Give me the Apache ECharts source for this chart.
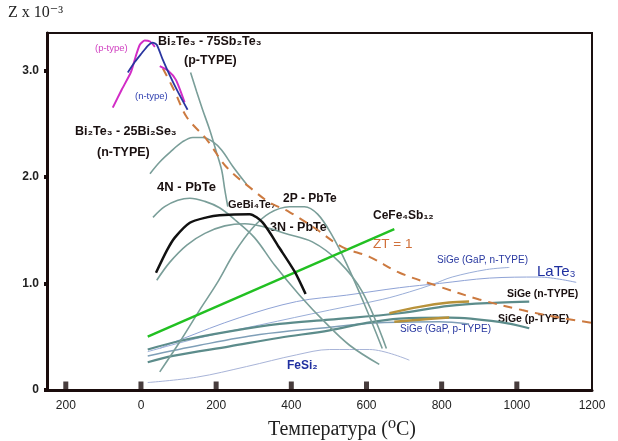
<!DOCTYPE html>
<html><head><meta charset="utf-8">
<script src="https://cdn.jsdelivr.net/npm/echarts@6/dist/echarts.min.js"></script>
<style>html,body{margin:0;padding:0;background:#fff}#c{width:618px;height:441px}</style>
</head><body><div id="c"></div>
<script>
// ---- data (°C , Z x 10^-3) ----
const xTickVals = [-200, 0, 200, 400, 600, 800, 1000];
const xTickLabels = {'-200':'200','0':'0','200':'200','400':'400','600':'600','800':'800','1000':'1000','1200':'1200'};
const yTickLabels = {'0':'0','1':'1.0','2':'2.0','3':'3.0'};

const pTypeAX = [-75, -51, -27, -14, -3, 10, 24, 37];
const pTypeAY = [2.65, 2.82, 2.98, 3.13, 3.24, 3.28, 3.27, 3.22];
const pTypeBX = [50, 71, 93, 116];
const pTypeBY = [3.04, 3.00, 2.91, 2.70];
const nTypeX = [-35, -16, 2, 18, 31, 42, 58, 77, 98, 124];
const nTypeY = [2.98, 3.08, 3.16, 3.23, 3.26, 3.24, 3.10, 2.95, 2.80, 2.63];
const sbTeX = [132, 148, 164, 183, 201, 215, 223, 231];
const sbTeY = [2.98, 2.80, 2.63, 2.44, 2.23, 2.06, 1.88, 1.72];
const biSeX = [24, 50, 77, 111, 138, 164, 191, 215, 244, 281];
const biSeY = [2.03, 2.14, 2.23, 2.33, 2.37, 2.37, 2.33, 2.25, 2.10, 1.93];
const pb4NX = [32, 63, 98, 130, 170, 209, 249, 302, 356, 422, 494, 555, 634];
const pb4NY = [1.62, 1.72, 1.78, 1.80, 1.77, 1.71, 1.60, 1.43, 1.17, 0.89, 0.62, 0.42, 0.24];
const pb3NX = [42, 77, 122, 170, 223, 276, 329, 382, 456, 528, 589, 653];
const pb3NY = [1.03, 1.20, 1.36, 1.47, 1.54, 1.56, 1.53, 1.47, 1.39, 1.20, 0.92, 0.39];
const pb2PX = [50, 103, 156, 202, 249, 297, 342, 395, 435, 470, 507, 549, 595, 642];
const pb2PY = [0.17, 0.45, 0.75, 1.00, 1.29, 1.52, 1.66, 1.72, 1.72, 1.65, 1.46, 1.17, 0.80, 0.39];
const geBiX = [40, 69, 90, 130, 175, 209, 289, 324, 369, 409, 438];
const geBiY = [1.10, 1.31, 1.43, 1.57, 1.62, 1.64, 1.65, 1.57, 1.33, 1.11, 0.90];
const ceFeX = [18, 674];
const ceFeY = [0.50, 1.51];
const zt1X = [58, 90, 122, 175, 228, 297, 342, 395, 462, 536, 608, 688, 794, 900, 1014, 1112, 1200];
const zt1Y = [3.02, 2.80, 2.56, 2.35, 2.09, 1.88, 1.76, 1.67, 1.52, 1.34, 1.25, 1.10, 0.97, 0.85, 0.75, 0.68, 0.63];
const siGeNX = [18, 103, 236, 369, 502, 688, 820, 953, 1033];
const siGeNY = [0.38, 0.46, 0.55, 0.62, 0.66, 0.72, 0.79, 0.82, 0.83];
const siGePX = [18, 85, 236, 369, 502, 600, 688, 820, 953, 1033];
const siGePY = [0.26, 0.32, 0.41, 0.49, 0.56, 0.63, 0.67, 0.68, 0.64, 0.58];
const gapPX = [18, 156, 316, 475, 634, 794, 873];
const gapPY = [0.32, 0.42, 0.52, 0.58, 0.63, 0.64, 0.62];
const laTeX = [50, 103, 263, 414, 547, 688, 794, 927, 1059, 1158];
const laTeY = [0.39, 0.47, 0.68, 0.83, 0.89, 0.96, 1.00, 1.05, 1.06, 1.01];
const gapNX = [18, 156, 316, 502, 642, 714, 775, 828, 919, 980];
const gapNY = [0.36, 0.49, 0.61, 0.75, 0.85, 0.92, 0.99, 1.06, 1.13, 1.15];
const feSiX = [18, 148, 281, 414, 502, 608, 714];
const feSiY = [0.07, 0.12, 0.22, 0.33, 0.38, 0.38, 0.28];
const gold1X = [661, 741, 820, 873];
const gold1Y = [0.72, 0.78, 0.82, 0.83];
const gold2X = [674, 741, 820];
const gold2Y = [0.64, 0.66, 0.68];

const zip = (xs, ys) => xs.map((x, i) => [x, ys[i]]);
function ln(xs, ys, color, width, extra) {
  return Object.assign({
    type: 'line', data: zip(xs, ys), showSymbol: false, symbol: 'none',
    smooth: 0.35, silent: true, animation: false,
    lineStyle: { color: color, width: width }
  }, extra || {});
}
const GRAY = '#7a9e99', TEAL = '#5c8c8b', THINB = '#8fa3d6';

const sans = '"Liberation Sans", Arial, "DejaVu Sans", sans-serif';
const serif = '"Liberation Serif", "Times New Roman", "DejaVu Serif", serif';
function txt(t, left, top, font, fill) {
  return { type: 'text', left: left, top: top, silent: true,
    style: { text: t, font: font, fill: fill } };
}
const DARK = '#1a1010';

const chart = echarts.init(document.getElementById('c'));
chart.setOption({
  backgroundColor: '#fff',
  animation: false,
  grid: { left: 47, top: 33, width: 545, height: 357, show: true, borderColor: '#1a1010', borderWidth: 2 },
  xAxis: {
    type: 'value', min: -250, max: 1200, interval: 50,
    axisLine: { show: true, onZero: false, lineStyle: { color: '#1a0c0c', width: 3 } },
    axisTick: { show: false }, splitLine: { show: false },
    axisLabel: {
      margin: 10, color: '#222', fontSize: 12, fontFamily: sans,
      formatter: v => xTickLabels[String(v)] || ''
    }
  },
  yAxis: {
    type: 'value', min: 0, max: 3.35, interval: 1,
    axisLine: { show: true, onZero: false, lineStyle: { color: '#1a0c0c', width: 3 } },
    axisTick: { show: true, length: 3, lineStyle: { color: '#1a0c0c', width: 4 } },
    splitLine: { show: false },
    axisLabel: {
      margin: 8, color: '#222', fontSize: 12, fontWeight: 'bold', fontFamily: sans,
      showMaxLabel: false,
      formatter: v => yTickLabels[String(v)] || ''
    }
  },
  series: [
    ln(feSiX, feSiY, '#a8b4d8', 1),
    ln(laTeX, laTeY, THINB, 1),
    ln(gapNX, gapNY, '#9aaed8', 1),
    ln(gapPX, gapPY, '#7f9fb8', 1.5),
    ln(siGeNX, siGeNY, TEAL, 2.2),
    ln(siGePX, siGePY, TEAL, 2.2),
    ln(gold1X, gold1Y, '#b8923a', 2.5),
    ln(gold2X, gold2Y, '#b8923a', 2.5),
    ln(pb2PX, pb2PY, GRAY, 1.6),
    ln(pb3NX, pb3NY, GRAY, 1.6),
    ln(pb4NX, pb4NY, GRAY, 1.6),
    ln(biSeX, biSeY, GRAY, 1.6),
    ln(sbTeX, sbTeY, GRAY, 1.6),
    ln(ceFeX, ceFeY, '#22c022', 2.4, { smooth: false }),
    ln(geBiX, geBiY, '#111', 2.5, { smooth: 0.25 }),
    ln(zt1X, zt1Y, '#cc7a40', 2, { lineStyle: { color: '#cc7a40', width: 2, type: [9, 7] } }),
    ln(pTypeAX, pTypeAY, '#d22cc6', 2, { smooth: 0.2 }),
    ln(pTypeBX, pTypeBY, '#d22cc6', 2, { smooth: 0.2 }),
    ln(nTypeX, nTypeY, '#2a36a0', 1.8, { smooth: 0.2 }),
    {
      type: 'scatter', data: xTickVals.map(v => [v, 0]), symbol: 'rect',
      symbolSize: [5, 9], symbolOffset: [0, -4], silent: true,
      itemStyle: { color: '#1a0c0c' }
    }
  ],
  graphic: [
    txt('Z x 10⁻³', 8, 5, '16px ' + serif, '#222'),
    txt('Температура (⁰C)', 268, 420, '20px ' + serif, '#222'),
    txt('(p-type)', 95, 43, '9.5px ' + sans, '#d040c0'),
    txt('Bi₂Te₃ - 75Sb₂Te₃', 158, 35, 'bold 12.5px ' + sans, DARK),
    txt('(p-TYPE)', 184, 54, 'bold 12.5px ' + sans, DARK),
    txt('(n-type)', 135, 91, '9.5px ' + sans, '#3040b0'),
    txt('Bi₂Te₃ - 25Bi₂Se₃', 75, 125, 'bold 12.5px ' + sans, DARK),
    txt('(n-TYPE)', 97, 146, 'bold 12.5px ' + sans, DARK),
    txt('4N - PbTe', 157, 181, 'bold 13px ' + sans, DARK),
    txt('GeBi₄Te₇', 228, 199, 'bold 11px ' + sans, DARK),
    txt('2P - PbTe', 283, 193, 'bold 12px ' + sans, DARK),
    txt('3N - PbTe', 270, 221, 'bold 12.5px ' + sans, DARK),
    txt('CeFe₄Sb₁₂', 373, 210, 'bold 12px ' + sans, DARK),
    txt('ZT = 1', 373, 237, '13.5px ' + sans, '#d0703a'),
    txt('SiGe (GaP, n-TYPE)', 437, 255, '10px ' + sans, '#2838a0'),
    txt('LaTe₃', 537, 264, '15px ' + sans, '#2030a0'),
    txt('SiGe (n-TYPE)', 507, 289, 'bold 10.5px ' + sans, DARK),
    txt('SiGe (p-TYPE)', 498, 314, 'bold 10.5px ' + sans, DARK),
    txt('SiGe (GaP, p-TYPE)', 400, 324, '10px ' + sans, '#2838a0'),
    txt('FeSi₂', 287, 360, 'bold 12px ' + sans, '#2030a0')
  ]
});
</script></body></html>
